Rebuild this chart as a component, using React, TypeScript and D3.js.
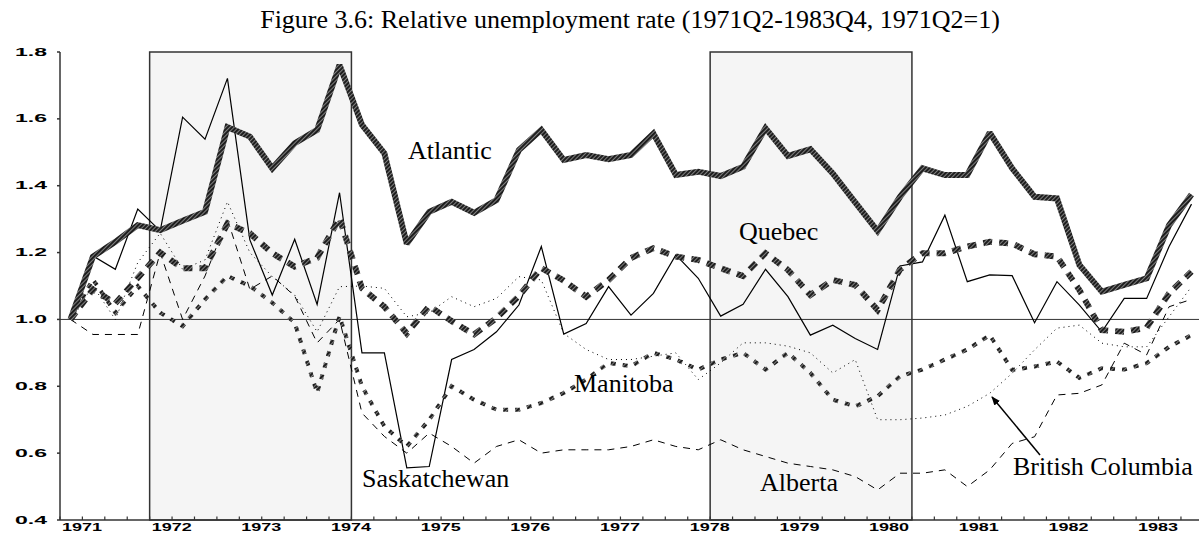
import React from "react";
import * as d3 from "d3";

const quarters: string[] = d3.range(51).map((i) => {
  const q = i + 1; // 0 -> 1971Q2
  return `${1971 + Math.floor(q / 4)}Q${(q % 4) + 1}`;
});

const atlantic = [1.0, 1.188, 1.232, 1.282, 1.267, 1.295, 1.322, 1.575, 1.547, 1.452, 1.527, 1.567, 1.761, 1.582, 1.497, 1.226, 1.322, 1.352, 1.319, 1.357, 1.507, 1.567, 1.477, 1.492, 1.479, 1.492, 1.556, 1.432, 1.442, 1.429, 1.457, 1.572, 1.489, 1.509, 1.437, 1.35, 1.264, 1.367, 1.452, 1.432, 1.432, 1.559, 1.452, 1.367, 1.362, 1.163, 1.083, 1.103, 1.123, 1.282, 1.374];
const quebec = [1.0, 1.09, 1.048, 1.124, 1.2, 1.153, 1.153, 1.287, 1.258, 1.198, 1.158, 1.184, 1.303, 1.093, 1.038, 0.958, 1.04, 0.995, 0.955, 1.004, 1.07, 1.154, 1.116, 1.068, 1.118, 1.184, 1.213, 1.188, 1.178, 1.153, 1.13, 1.198, 1.148, 1.073, 1.118, 1.103, 1.028, 1.15, 1.198, 1.198, 1.218, 1.232, 1.227, 1.195, 1.188, 1.088, 0.968, 0.963, 0.975, 1.078, 1.143];
const manitoba = [1.0, 1.12, 1.02, 1.1, 1.02, 0.98, 1.06, 1.13, 1.1, 1.05, 0.99, 0.78, 1.01, 0.8, 0.68, 0.62, 0.7, 0.8, 0.76, 0.73, 0.73, 0.75, 0.78, 0.82, 0.87, 0.86, 0.9, 0.88, 0.85, 0.88, 0.9, 0.85, 0.9, 0.84, 0.76, 0.74, 0.77, 0.83, 0.85, 0.88, 0.91, 0.953, 0.849, 0.859, 0.874, 0.825, 0.854, 0.85, 0.869, 0.918, 0.953];
const saskatchewan = [1.0, 1.19, 1.15, 1.33, 1.265, 1.605, 1.539, 1.721, 1.238, 1.073, 1.24, 1.045, 1.379, 0.9, 0.9, 0.556, 0.56, 0.88, 0.91, 0.963, 1.043, 1.218, 0.956, 0.988, 1.098, 1.013, 1.078, 1.193, 1.123, 1.01, 1.045, 1.15, 1.068, 0.953, 0.983, 0.943, 0.91, 1.16, 1.172, 1.312, 1.113, 1.133, 1.131, 0.99, 1.113, 1.043, 0.963, 1.063, 1.063, 1.218, 1.345];
const alberta = [1.0, 0.955, 0.955, 0.955, 1.2, 1.0, 1.13, 1.3, 1.09, 1.13, 1.07, 0.93, 1.0, 0.72, 0.65, 0.6, 0.66, 0.62, 0.57, 0.62, 0.64, 0.6, 0.61, 0.61, 0.61, 0.62, 0.64, 0.62, 0.61, 0.64, 0.61, 0.59, 0.57, 0.56, 0.55, 0.53, 0.49, 0.54, 0.54, 0.55, 0.5, 0.55, 0.629, 0.649, 0.774, 0.779, 0.804, 0.929, 0.894, 1.038, 1.06];
const britishColumbia = [1.0, 1.1, 1.0, 1.17, 1.258, 1.15, 1.178, 1.352, 1.2, 1.128, 1.073, 0.963, 1.098, 1.1, 1.093, 1.008, 1.02, 1.068, 1.038, 1.063, 1.128, 1.118, 0.958, 0.91, 0.88, 0.88, 0.89, 0.9, 0.82, 0.87, 0.93, 0.93, 0.92, 0.9, 0.84, 0.88, 0.7, 0.7, 0.705, 0.714, 0.74, 0.779, 0.839, 0.909, 0.974, 0.983, 0.929, 0.918, 0.918, 1.008, 1.098];

const yTicks = [0.4, 0.6, 0.8, 1.0, 1.2, 1.4, 1.6, 1.8];
const yTickLabels = ["0.4", "0.6", "0.8", "1.0", "1.2", "1.4", "1.6", "1.8"];
const years = [1971, 1972, 1973, 1974, 1975, 1976, 1977, 1978, 1979, 1980, 1981, 1982, 1983];
// shaded periods, as [start quarter, end quarter] (quarter start boundaries)
const shadeStarts = ["1972Q1", "1978Q2"];
const shadeEnds = ["1974Q2", "1980Q3"];

const title = "Figure 3.6: Relative unemployment rate (1971Q2-1983Q4, 1971Q2=1)";

const W = 1199;
const H = 533;

export default function App() {
  const x = d3.scaleLinear().domain([0, 50]).range([70.5, 1191.5]);
  const y = d3.scaleLinear().domain([0.4, 1.8]).range([520, 52]);
  const qIndex = (s: string) => {
    const yr = +s.slice(0, 4);
    const q = +s.slice(5);
    return (yr - 1971) * 4 + (q - 1);
  };
  const tickX = (k: number) => x(k - 0.47);

  const line = d3
    .line<number>()
    .x((_, i) => x(i))
    .y((d) => y(d))
    .curve(d3.curveLinear);

  const tickKs = d3.range(0, 51);

  const axisFont = {
    fontFamily: "'Liberation Sans', Arial, sans-serif",
    fontWeight: 700,
    fontSize: 10,
  } as const;
  const serif = { fontFamily: "'Liberation Serif', 'Times New Roman', serif", fontSize: 26 } as const;

  return (
    <svg width={W} height={H} style={{ position: "absolute", left: 0, top: 0, background: "#fff" }}>
      <defs>
        <pattern id="hatch" patternUnits="userSpaceOnUse" width="3" height="3" patternTransform="rotate(45)">
          <rect width="3" height="3" fill="#1e1e1e" />
          <rect width="1" height="3" fill="#808080" />
        </pattern>
        <marker id="arrow" viewBox="0 0 10 10" refX="9" refY="5" markerWidth="9" markerHeight="9" orient="auto" markerUnits="userSpaceOnUse">
          <path d="M0,1 L10,5 L0,9 z" fill="#000" />
        </marker>
      </defs>
      <rect width={W} height={H} fill="#fff" />

      {shadeStarts.map((s, i) => (
        <rect
          key={s}
          x={tickX(qIndex(s))}
          y={y(1.8)}
          width={tickX(qIndex(shadeEnds[i])) - tickX(qIndex(s))}
          height={y(0.4) - y(1.8)}
          fill="#f5f5f5"
          stroke="#333"
          strokeWidth={1.5}
        />
      ))}

      <line x1={60} x2={W} y1={y(1)} y2={y(1)} stroke="#333" strokeWidth={1} />

      <line x1={60} x2={60} y1={y(1.8)} y2={y(0.4)} stroke="#333" strokeWidth={1.5} />
      <line x1={60} x2={W} y1={y(0.4)} y2={y(0.4)} stroke="#333" strokeWidth={1.5} />
      {yTicks.map((t, i) => (
        <g key={t}>
          <line x1={57} x2={60} y1={y(t)} y2={y(t)} stroke="#333" strokeWidth={1.5} />
          <text
            x={47}
            y={y(t) + 3.5}
            textAnchor="end"
            {...axisFont}
            textLength={32}
            lengthAdjust="spacingAndGlyphs"
            fill="#000"
          >
            {yTickLabels[i]}
          </text>
        </g>
      ))}
      {tickKs.map((k) => (
        <line key={k} x1={tickX(k)} x2={tickX(k)} y1={y(0.4)} y2={y(0.4) - 3.5} stroke="#333" strokeWidth={1.2} />
      ))}
      {years.map((yr) => (
        <text
          key={yr}
          x={tickX((yr - 1971) * 4) + 2}
          y={531}
          {...axisFont}
          textLength={40}
          lengthAdjust="spacingAndGlyphs"
          fill="#000"
        >
          {yr}
        </text>
      ))}

      <path d={line(britishColumbia) || ""} fill="none" stroke="#000" strokeWidth={1} strokeDasharray="1,4" />
      <path d={line(alberta) || ""} fill="none" stroke="#000" strokeWidth={1} strokeDasharray="7,6" />
      <path d={line(saskatchewan) || ""} fill="none" stroke="#000" strokeWidth={1.2} strokeLinejoin="miter" />
      <path d={line(manitoba) || ""} fill="none" stroke="url(#hatch)" strokeWidth={4} strokeDasharray="5,7" />
      <path d={line(quebec) || ""} fill="none" stroke="url(#hatch)" strokeWidth={6} strokeDasharray="9,7" />
      <path d={line(atlantic) || ""} fill="none" stroke="url(#hatch)" strokeWidth={6} strokeLinejoin="miter" strokeMiterlimit={2} />

      <text x={630} y={28} textAnchor="middle" {...serif} fill="#000">
        {title}
      </text>
      <text x={408} y={159} {...serif} fill="#000">Atlantic</text>
      <text x={739} y={240} {...serif} fill="#000">Quebec</text>
      <text x={574} y={392} {...serif} fill="#000">Manitoba</text>
      <text x={362} y={487} {...serif} fill="#000">Saskatchewan</text>
      <text x={760} y={491} {...serif} fill="#000">Alberta</text>
      <text x={1013} y={475} {...serif} fill="#000">British Columbia</text>
      <line x1={1040} y1={455} x2={992} y2={397} stroke="#000" strokeWidth={1.5} markerEnd="url(#arrow)" />
      <text x={0} y={0} opacity={0}>{quarters.join(" ")}</text>
    </svg>
  );
}
